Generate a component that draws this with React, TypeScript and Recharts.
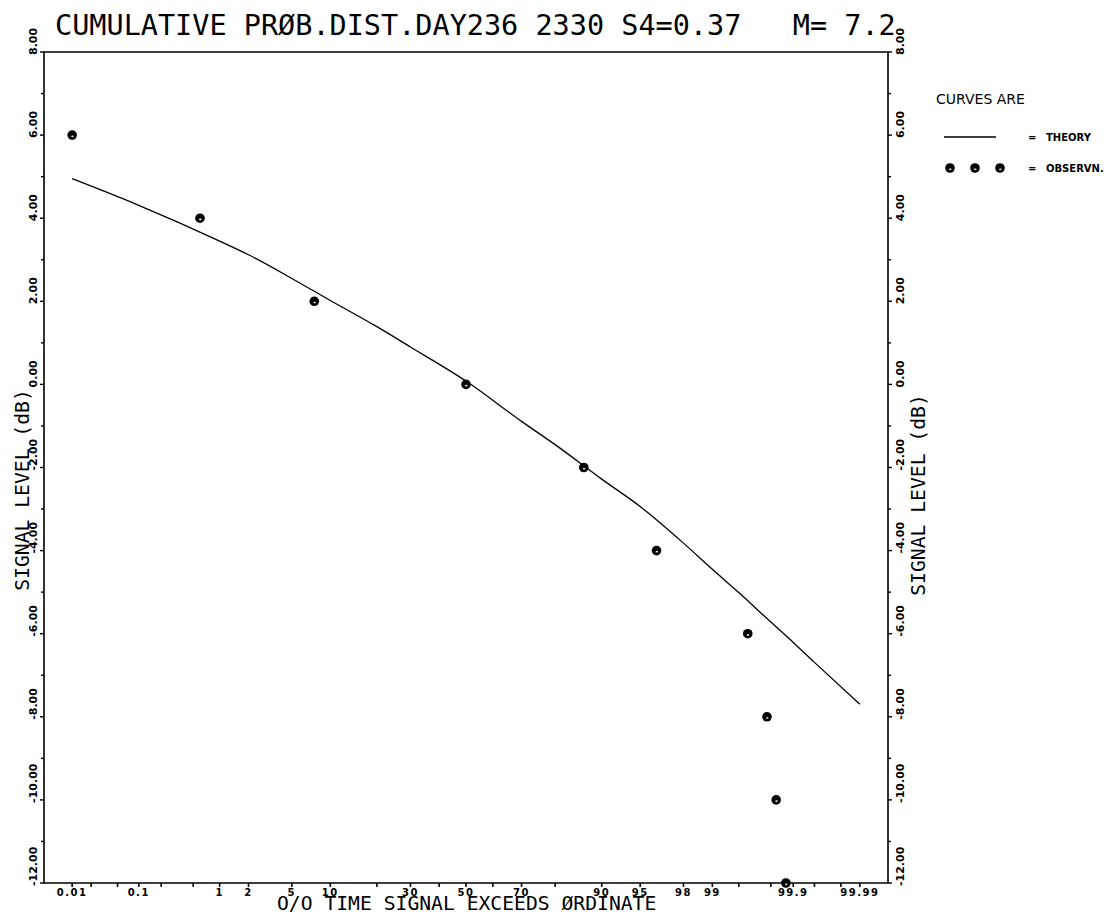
import { ComposedChart, Line, Scatter, XAxis, YAxis, ReferenceArea } from 'recharts'

// % of time signal exceeds ordinate
const theoryPct   = [0.01, 0.1, 1, 2, 5, 10, 20, 30, 50, 70, 80, 90, 95, 98, 99, 99.5, 99.8, 99.9, 99.95, 99.99]
const theoryLevel = [4.95, 4.31, 3.45, 3.12, 2.55, 2.02, 1.39, 0.9, 0.08, -0.89, -1.45, -2.28, -2.94, -3.82, -4.45, -5.01, -5.72, -6.21, -6.69, -7.7]

const obsPct   = [0.01, 0.6, 7.6, 50, 86.7, 96.4, 99.61, 99.776, 99.83, 99.874]
const obsLevel = [6, 4, 2, 0, -2, -4, -6, -8, -10, -12]

const xTickPct    = [0.01, 0.02, 0.05, 0.1, 0.2, 0.5, 1, 2, 5, 10, 20, 30, 40, 50, 60, 70, 80, 90, 95, 98, 99, 99.5, 99.8, 99.9, 99.95, 99.98, 99.99]
const xTickLabels = ['0.01', '', '', '0.1', '', '', '1', '2', '5', '10', '', '30', '', '50', '', '70', '', '90', '95', '98', '99', '', '', '99.9', '', '', '99.99']
const yTicks = [-12, -11, -10, -9, -8, -7, -6, -5, -4, -3, -2, -1, 0, 1, 2, 3, 4, 5, 6, 7, 8]

const TITLE = 'CUMULATIVE PRØB.DIST.DAY236 2330 S4=0.37   M= 7.2'
const X_TITLE = 'O/O TIME SIGNAL EXCEEDS ØRDINATE'
const Y_TITLE = 'SIGNAL LEVEL (dB)'

const MONO = '"DejaVu Sans Mono", "Liberation Mono", monospace'
const BOLD = '"DejaVu Sans", sans-serif'

// inverse normal cdf (Acklam) -> position on normal probability paper
function probit(p: number) {
  const a = [-39.69683028665376, 220.9460984245205, -275.9285104469687, 138.357751867269, -30.66479806614716, 2.506628277459239]
  const b = [-54.47609879822406, 161.5858368580409, -155.6989798598866, 66.80131188771972, -13.28068155288572]
  const c = [-0.007784894002430293, -0.3223964580411365, -2.400758277161838, -2.549671010115189, 4.374664141464968, 2.938163982698783]
  const d = [0.007784695709041462, 0.3224671290700398, 2.445134137142996, 3.754408661907416]
  const lo = 0.02425
  const tail = (q: number) =>
    (((((c[0] * q + c[1]) * q + c[2]) * q + c[3]) * q + c[4]) * q + c[5]) / ((((d[0] * q + d[1]) * q + d[2]) * q + d[3]) * q + 1)
  if (p < lo) return tail(Math.sqrt(-2 * Math.log(p)))
  if (p > 1 - lo) return -tail(Math.sqrt(-2 * Math.log(1 - p)))
  const q = p - 0.5, r = q * q
  return ((((((a[0] * r + a[1]) * r + a[2]) * r + a[3]) * r + a[4]) * r + a[5]) * q) /
    (((((b[0] * r + b[1]) * r + b[2]) * r + b[3]) * r + b[4]) * r + 1)
}

const pz = (pct: number) => probit(pct / 100)
const theoryData = theoryPct.map((p, i) => ({ z: pz(p), y: theoryLevel[i] }))
const obsData    = obsPct.map((p, i) => ({ z: pz(p), y: obsLevel[i] }))
const xTicks     = xTickPct.map(pz)
const X_DOMAIN: [number, number] = [-3.985, 3.985]

const fmtY = (v: number) => v.toFixed(2)

function XTick({ x, y, index }: any) {
  const label = xTickLabels[index]
  return (
    <g>
      <line x1={x} y1={y} x2={x} y2={y + 4} stroke="#000" strokeWidth={1.6} />
      {label && (
        <text x={x} y={y + 13} textAnchor="middle" fontFamily={BOLD} fontWeight="bold" fontSize={10} letterSpacing={1.5} fill="#000">
          {label}
        </text>
      )}
    </g>
  )
}

function YTick({ x, y, payload, side }: any) {
  const v = payload.value as number
  const major = v % 2 === 0
  const len = major ? 4 : 3
  const dir = side === 'left' ? -1 : 1
  const bx = side === 'left' ? x - 7 : x + 16
  return (
    <g>
      <line x1={x} y1={y} x2={x + dir * len} y2={y} stroke="#000" strokeWidth={1.4} />
      {major && (
        <text x={bx} y={y + 3} transform={`rotate(-90 ${bx} ${y + 3})`} textAnchor="start"
          fontFamily={BOLD} fontWeight="bold" fontSize={11} fill="#000">
          {fmtY(v)}
        </text>
      )}
    </g>
  )
}

function ObsDot({ cx, cy }: any) {
  if (cx == null || cy == null) return null
  return (
    <g>
      <circle cx={cx} cy={cy} r={4.8} fill="#000" />
      <ellipse cx={cx + 0.3} cy={cy + 1.2} rx={1.3} ry={0.8} fill="#fff" />
    </g>
  )
}

export default function App() {
  return (
    <div style={{ position: 'relative', width: 1112, height: 920, margin: -8, background: '#fff' }}>
      <ComposedChart width={1112} height={920} margin={{ top: 52, right: 0, bottom: 0, left: 0 }}>
        <XAxis dataKey="z" type="number" domain={X_DOMAIN} ticks={xTicks} interval={0} height={37}
          axisLine={false} tickLine={false} tickSize={0} tickMargin={0} tick={<XTick />} />
        <YAxis yAxisId="L" dataKey="y" type="number" domain={[-12, 8]} ticks={yTicks} interval={0} width={44}
          axisLine={false} tickLine={false} tickSize={0} tickMargin={0} tick={<YTick side="left" />} />
        <YAxis yAxisId="R" orientation="right" dataKey="y" type="number" domain={[-12, 8]} ticks={yTicks} interval={0} width={224}
          axisLine={false} tickLine={false} tickSize={0} tickMargin={0} tick={<YTick side="right" />} />
        <ReferenceArea yAxisId="L" x1={X_DOMAIN[0]} x2={X_DOMAIN[1]} y1={-12} y2={8} fill="none" stroke="#000" strokeWidth={1.6} ifOverflow="visible" />
        <Line yAxisId="R" data={theoryData} dataKey="y" type="monotone" stroke="none" dot={false} activeDot={false} isAnimationActive={false} />
        <Line yAxisId="L" data={theoryData} dataKey="y" type="monotone" stroke="#000" strokeWidth={1.3} dot={false} isAnimationActive={false} />
        <Scatter yAxisId="L" data={obsData} dataKey="y" shape={<ObsDot />} isAnimationActive={false} />
      </ComposedChart>

      <svg width={1112} height={920} style={{ position: 'absolute', left: 0, top: 0, pointerEvents: 'none' }}>
        <text x={55} y={35} fontFamily={MONO} fontSize={28.5} fill="#000" style={{ whiteSpace: 'pre' }}>{TITLE}</text>
        <text x={277} y={910} fontFamily={MONO} fontSize={19.7} fill="#000">{X_TITLE}</text>
        <text x={29} y={490} transform="rotate(-90 29 490)" textAnchor="middle" fontFamily={MONO} fontSize={19.7} fill="#000">{Y_TITLE}</text>
        <text x={925} y={495} transform="rotate(-90 925 495)" textAnchor="middle" fontFamily={MONO} fontSize={19.7} fill="#000">{Y_TITLE}</text>

        <text x={936} y={104} fontFamily={BOLD} fontSize={14} fill="#000">CURVES ARE</text>
        <line x1={944} y1={137} x2={996} y2={137} stroke="#000" strokeWidth={1.6} />
        <text x={1028} y={141} fontFamily={BOLD} fontWeight="bold" fontSize={10} fill="#000">=</text>
        <text x={1046} y={141} fontFamily={BOLD} fontWeight="bold" fontSize={10} fill="#000">THEORY</text>
        <ObsDot cx={950} cy={168} />
        <ObsDot cx={975} cy={168} />
        <ObsDot cx={1000} cy={168} />
        <text x={1028} y={172} fontFamily={BOLD} fontWeight="bold" fontSize={10} fill="#000">=</text>
        <text x={1046} y={172} fontFamily={BOLD} fontWeight="bold" fontSize={10} fill="#000">OBSERVN.</text>
      </svg>
    </div>
  )
}
